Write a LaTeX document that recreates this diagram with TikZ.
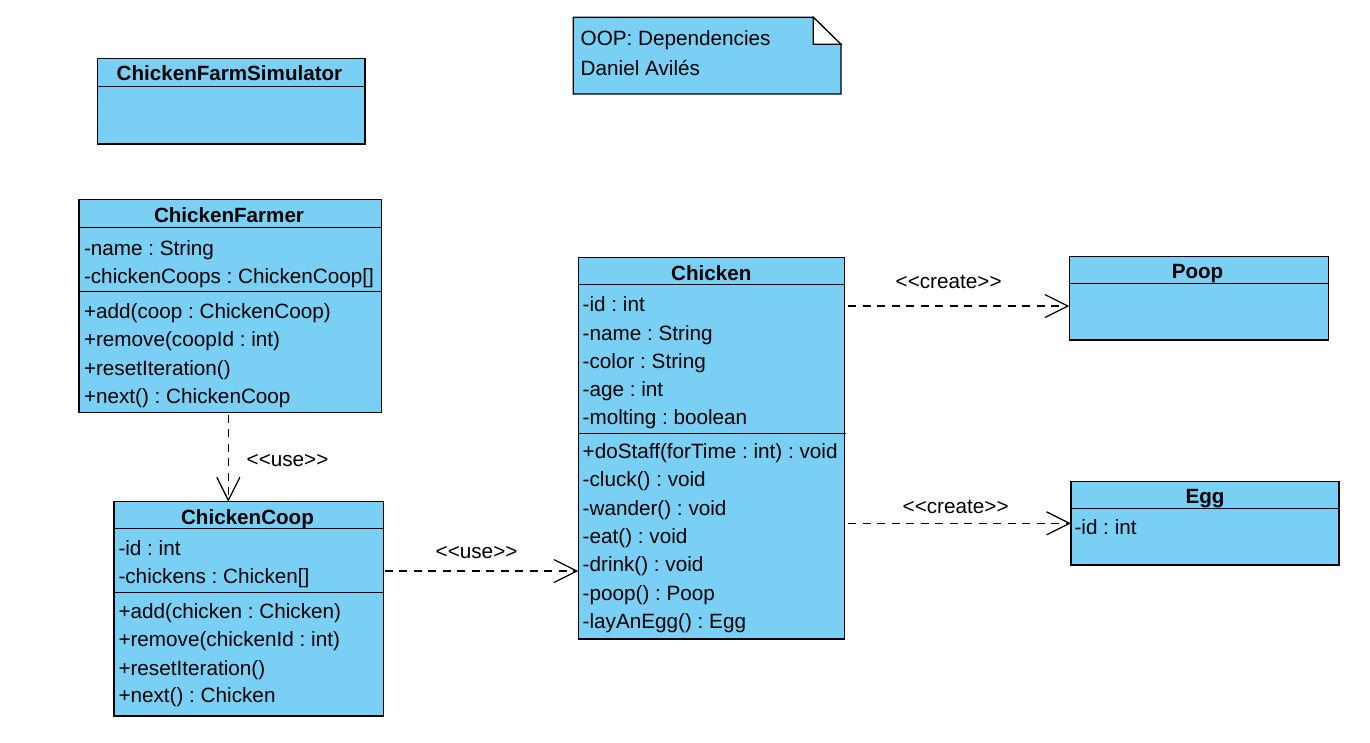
\documentclass[tikz,border=0pt]{standalone}
\usepackage{fontspec}
\setmainfont{Liberation Sans}
\usetikzlibrary{arrows.meta}
\definecolor{umlfill}{RGB}{122,207,245}
\tikzset{
  umlbox/.style={draw=black, fill=umlfill, line width=1.2pt, rectangle, inner sep=0pt, outer sep=0pt},
  sepline/.style={draw=black, line width=1.2pt},
  txt/.style={anchor=base west, inner sep=0pt, outer sep=0pt, font=\fontsize{20.7}{24}\selectfont},
  head/.style={anchor=base, inner sep=0pt, outer sep=0pt, font=\fontsize{20.6}{24}\selectfont\bfseries},
  dep/.style={line width=1.3pt, dash pattern=on 8pt off 6.5pt, -{Straight Barb[length=23pt,width=23pt,line width=1.3pt]}},
}
\frenchspacing
\begin{document}
\begin{tikzpicture}[x=1pt,y=-1pt]
\useasboundingbox (0,0) rectangle (1370,742);

% ChickenFarmSimulator
\node[umlbox, anchor=north west, minimum width=267.7pt, minimum height=85.7pt] (sim) at (97.3,58.3) {};
\draw[sepline] (97.3,86.7) -- (365,86.7);
\node[head] (simh) at (229.5,80.7) {ChickenFarmSimulator};

% Note
\path[umlbox] (573.3,17.3) -- (813.3,17.3) -- (841,44.3) -- (841,94) -- (573.3,94) -- cycle;
\path[draw=black, fill=white, line width=1.2pt, line join=miter] (813.3,17.3) -- (813.3,44.3) -- (841,44.3) -- cycle;
\coordinate (note) at (707,55);
\node[txt] (note1) at (580.7,45) {OOP: Dependencies};
\node[txt] (note2) at (580.7,75) {Daniel Avilés};

% ChickenFarmer
\node[umlbox, anchor=north west, minimum width=302.7pt, minimum height=213.4pt] (farmer) at (79,199.3) {};
\draw[sepline] (79,227.7) -- (381.7,227.7);
\draw[sepline] (79,291.7) -- (381.7,291.7);
\node[head] (farmerh) at (229,222) {ChickenFarmer};
\node[txt] (fa1) at (84,255) {-name : String};
\node[txt] (fa2) at (84,283) {-chickenCoops : ChickenCoop[]};
\node[txt] (fo1) at (84,318) {+add(coop : ChickenCoop)};
\node[txt] (fo2) at (84,346.5) {+remove(coopId : int)};
\node[txt] (fo3) at (84,375) {+resetIteration()};
\node[txt] (fo4) at (84,403) {+next() : ChickenCoop};

% ChickenCoop
\node[umlbox, anchor=north west, minimum width=269.3pt, minimum height=214.3pt] (coop) at (114,501.7) {};
\draw[sepline] (114,528.3) -- (383.3,528.3);
\draw[sepline] (114,592.7) -- (383.3,592.7);
\node[head] (cooph) at (247.5,524) {ChickenCoop};
\node[txt] (ca1) at (118.5,555) {-id : int};
\node[txt] (ca2) at (118.5,583.3) {-chickens : Chicken[]};
\node[txt] (co1) at (118.5,618.3) {+add(chicken : Chicken)};
\node[txt] (co2) at (118.5,646.7) {+remove(chickenId : int)};
\node[txt] (co3) at (118.5,675) {+resetIteration()};
\node[txt] (co4) at (118.5,702.7) {+next() : Chicken};

% Chicken
\node[umlbox, anchor=north west, minimum width=266pt, minimum height=381.7pt] (chicken) at (578.3,257.3) {};
\draw[sepline] (578.3,284.3) -- (844.3,284.3);
\draw[sepline] (578.3,433.3) -- (846,433.3);
\node[head] (chickenh) at (711.3,280) {Chicken};
\node[txt] (ha1) at (582.7,311.7) {-id : int};
\node[txt] (ha2) at (582.7,340) {-name : String};
\node[txt] (ha3) at (582.7,368.3) {-color : String};
\node[txt] (ha4) at (582.7,396.7) {-age : int};
\node[txt] (ha5) at (582.7,424.7) {-molting : boolean};
\node[txt] (ho1) at (582.7,458.3) {+doStaff(forTime : int) : void};
\node[txt] (ho2) at (582.7,486.7) {-cluck() : void};
\node[txt] (ho3) at (582.7,515) {-wander() : void};
\node[txt] (ho4) at (582.7,543.3) {-eat() : void};
\node[txt] (ho5) at (582.7,571.7) {-drink() : void};
\node[txt] (ho6) at (582.7,600) {-poop() : Poop};
\node[txt] (ho7) at (582.7,628.3) {-layAnEgg() : Egg};

% Poop
\node[umlbox, anchor=north west, minimum width=259pt, minimum height=83.3pt] (poop) at (1069.3,256.7) {};
\draw[sepline] (1069.3,283.3) -- (1328.3,283.3);
\node[head] (pooph) at (1197.5,278.5) {Poop};

% Egg
\node[umlbox, anchor=north west, minimum width=268pt, minimum height=83.3pt] (egg) at (1071,481.7) {};
\draw[sepline] (1071,508.3) -- (1339,508.3);
\node[head] (eggh) at (1205,503.5) {Egg};
\node[txt] (ea1) at (1074.5,534.3) {-id : int};

% Dependencies
\draw[dep] ([xshift=-2pt,yshift=-2pt]farmer.south) -- ([xshift=-2pt]farmer.south |- coop.north);
\node[txt] (l1) at (246.7,466.7) {<\kern0pt<use>\kern0pt>};

\draw[dep] ([xshift=1.5pt,yshift=37.8pt]coop.east) -- ([yshift=37.8pt]coop.east -| chicken.west);
\node[txt] (l2) at (435.7,558.3) {<\kern0pt<use>\kern0pt>};

\draw[dep] ([xshift=3.7pt,yshift=142.1pt]chicken.east) -- ([yshift=142.1pt]chicken.east -| poop.west);
\node[txt] (l3) at (895.7,288.3) {<\kern0pt<create>\kern0pt>};

\draw[dep] ([xshift=3.7pt]chicken.east |- egg.west) -- (egg.west);
\node[txt] (l4) at (902.7,513.3) {<\kern0pt<create>\kern0pt>};
\end{tikzpicture}
\end{document}
